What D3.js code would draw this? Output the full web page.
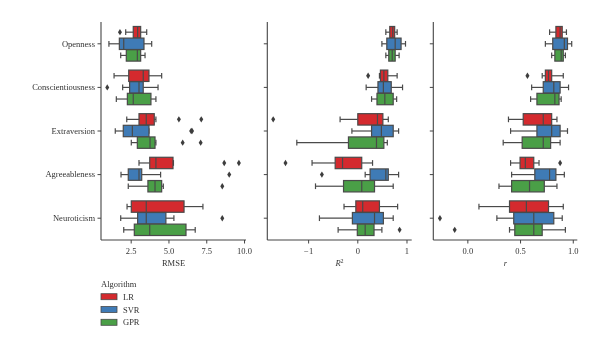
<!DOCTYPE html>
<html>
<head>
<meta charset="utf-8">
<script src="https://cdn.jsdelivr.net/npm/d3@7/dist/d3.min.js"></script>
<style>
  body { margin: 0; background: #fff; }
  svg { will-change: transform; }
  svg text { font-family: "Liberation Serif", "DejaVu Serif", serif; fill: #333; }
</style>
</head>
<body>
<div id="chart"></div>
<script>
// categories
var traits = ['Openness', 'Conscientiousness', 'Extraversion', 'Agreeableness', 'Neuroticism'];
var algorithms = ['LR', 'SVR', 'GPR'];

// box stats per trait: [whisker low, q1, median, q3, whisker high]
var rmseLR  = [[2.17, 2.67, 2.96, 3.16, 3.56], [1.40, 2.37, 3.33, 3.71, 4.55], [2.24, 3.05, 3.53, 4.06, 4.17], [3.05, 3.76, 4.17, 5.30, 5.33], [2.26, 2.54, 3.53, 6.03, 7.28]];
var rmseSVR = [[1.06, 1.75, 2.04, 3.38, 3.89], [1.97, 2.43, 3.05, 3.33, 4.31], [1.48, 2.01, 2.61, 3.71, 3.71], [1.86, 2.34, 3.05, 3.23, 4.48], [1.84, 2.96, 3.53, 4.83, 5.36]];
var rmseGPR = [[1.84, 2.21, 2.94, 3.16, 3.45], [1.55, 2.28, 2.67, 3.84, 4.17], [2.54, 2.94, 3.78, 4.11, 4.17], [2.34, 3.64, 4.11, 4.55, 4.66], [2.04, 2.74, 3.76, 6.16, 6.77]];
var rmseOutLR  = [[1.79], [], [5.69, 7.17], [8.69, 9.66], []];
var rmseOutSVR = [[], [0.95], [6.50, 6.56], [9.02], [8.56]];
var rmseOutGPR = [[], [], [5.94, 7.13], [8.56], []];

var r2LR  = [[0.58, 0.66, 0.72, 0.76, 0.81], [0.45, 0.47, 0.54, 0.62, 0.81], [-0.35, 0.01, 0.41, 0.52, 0.63], [-0.92, -0.45, -0.30, 0.09, 0.31], [-0.27, -0.03, 0.11, 0.45, 0.82]];
var r2SVR = [[0.50, 0.60, 0.77, 0.89, 0.98], [0.18, 0.42, 0.53, 0.69, 0.92], [-0.11, 0.29, 0.49, 0.73, 0.84], [0.16, 0.26, 0.58, 0.63, 0.84], [-0.77, -0.10, 0.35, 0.53, 0.73]];
var r2GPR = [[0.58, 0.64, 0.71, 0.77, 0.85], [0.29, 0.40, 0.56, 0.73, 0.80], [-1.23, -0.18, 0.39, 0.54, 0.61], [-0.85, -0.28, 0.09, 0.35, 0.73], [-0.39, 0.00, 0.16, 0.34, 0.50]];
var r2OutLR  = [[], [0.22], [-1.71], [-1.46], []];
var r2OutSVR = [[], [], [], [-0.72], []];
var r2OutGPR = [[], [], [], [], [0.86]];

var rLR  = [[0.78, 0.84, 0.88, 0.90, 0.94], [0.71, 0.74, 0.77, 0.80, 0.91], [0.39, 0.53, 0.72, 0.80, 0.85], [0.41, 0.50, 0.55, 0.63, 0.68], [0.11, 0.40, 0.56, 0.77, 0.91]];
var rSVR = [[0.74, 0.81, 0.92, 0.95, 0.99], [0.61, 0.72, 0.82, 0.88, 0.96], [0.41, 0.66, 0.80, 0.88, 0.95], [0.42, 0.64, 0.78, 0.84, 0.92], [0.28, 0.44, 0.63, 0.82, 0.90]];
var rGPR = [[0.80, 0.83, 0.89, 0.91, 0.93], [0.60, 0.66, 0.83, 0.87, 0.89], [0.34, 0.52, 0.72, 0.79, 0.88], [0.30, 0.42, 0.59, 0.73, 0.85], [0.40, 0.45, 0.63, 0.71, 0.93]];
var rOutLR  = [[], [0.57], [], [0.88], []];
var rOutSVR = [[], [], [], [], [-0.26]];
var rOutGPR = [[], [], [], [], [-0.12]];

// tick labels
var rmseTicks = [2.5, 5.0, 7.5, 10.0];
var r2Ticks = [-1, 0, 1];
var rTicks = [0.0, 0.5, 1.0];

var colors = { LR: '#d42a2e', SVR: '#3f7bb6', GPR: '#4a9f47' };
var edge = '#4a4a4a';

var W = 600, H = 348;
var plotTop = 22, plotBottom = 240;

var svg = d3.select('#chart').append('svg')
  .attr('width', W).attr('height', H);

var y = d3.scaleBand().domain(traits).range([plotTop, plotBottom]);
var hue = d3.scaleBand().domain(algorithms).range([-y.bandwidth() * 0.4, y.bandwidth() * 0.4]);

var panels = [
  { x0: 101, x1: 246, domain: [0.536, 10.13], ticks: rmseTicks, fmt: d3.format('.1f'), label: 'RMSE',
    stats: { LR: rmseLR, SVR: rmseSVR, GPR: rmseGPR }, out: { LR: rmseOutLR, SVR: rmseOutSVR, GPR: rmseOutGPR } },
  { x0: 267.3, x1: 411.7, domain: [-1.83, 1.106], ticks: r2Ticks, fmt: function(d) { return d < 0 ? '\u2212' + Math.abs(d) : String(d); }, label: 'R2',
    stats: { LR: r2LR, SVR: r2SVR, GPR: r2GPR }, out: { LR: r2OutLR, SVR: r2OutSVR, GPR: r2OutGPR } },
  { x0: 433.3, x1: 577.3, domain: [-0.323, 1.043], ticks: rTicks, fmt: d3.format('.1f'), label: 'r',
    stats: { LR: rLR, SVR: rSVR, GPR: rGPR }, out: { LR: rOutLR, SVR: rOutSVR, GPR: rOutGPR } }
];

panels.forEach(function(p, pi) {
  var x = d3.scaleLinear().domain(p.domain).range([p.x0, p.x1]);
  var g = svg.append('g');

  // boxes
  algorithms.forEach(function(a) {
    var bh = hue.bandwidth() * 0.98;
    p.stats[a].forEach(function(s, ti) {
      var cy = y(traits[ti]) + y.bandwidth() / 2 + hue(a) + hue.bandwidth() / 2;
      var box = g.append('g');
      var cap = bh * 0.5;
      box.append('line').attr('x1', x(s[0])).attr('x2', x(s[1])).attr('y1', cy).attr('y2', cy)
        .attr('stroke', edge).attr('stroke-width', 1.2);
      box.append('line').attr('x1', x(s[3])).attr('x2', x(s[4])).attr('y1', cy).attr('y2', cy)
        .attr('stroke', edge).attr('stroke-width', 1.2);
      [s[0], s[4]].forEach(function(v) {
        box.append('line').attr('x1', x(v)).attr('x2', x(v)).attr('y1', cy - cap / 2).attr('y2', cy + cap / 2)
          .attr('stroke', edge).attr('stroke-width', 1.2);
      });
      box.append('rect').attr('x', x(s[1])).attr('y', cy - bh / 2)
        .attr('width', Math.max(0, x(s[3]) - x(s[1]))).attr('height', bh)
        .attr('fill', colors[a]).attr('stroke', edge).attr('stroke-width', 1.2);
      box.append('line').attr('x1', x(s[2])).attr('x2', x(s[2])).attr('y1', cy - bh / 2).attr('y2', cy + bh / 2)
        .attr('stroke', edge).attr('stroke-width', 1.2);
      p.out[a][ti].forEach(function(v) {
        box.append('path')
          .attr('d', 'M0,-3.2L2,0L0,3.2L-2,0Z')
          .attr('transform', 'translate(' + x(v) + ',' + cy + ')')
          .attr('fill', '#3d3d3d');
      });
    });
  });

  // y axis
  var ya = g.append('g').attr('transform', 'translate(' + p.x0 + ',0)')
    .call(d3.axisLeft(y).tickSize(3.5).tickPadding(2.5).tickFormat(pi === 0 ? null : ''));
  // x axis
  var xa = g.append('g').attr('transform', 'translate(0,' + plotBottom + ')')
    .call(d3.axisBottom(x).tickValues(p.ticks).tickFormat(p.fmt).tickSize(3.5).tickPadding(4));
  [ya, xa].forEach(function(ax) {
    ax.select('.domain').attr('stroke', '#444').attr('stroke-width', 1.1);
    ax.selectAll('.tick line').attr('stroke', '#444').attr('stroke-width', 1);
    ax.selectAll('.tick text').attr('font-size', 8.5).attr('fill', '#333')
      .attr('font-family', '"Liberation Serif", "DejaVu Serif", serif');
  });
  ya.select('.domain').attr('d', 'M0,' + plotTop + 'V' + plotBottom);
  xa.select('.domain').attr('d', 'M' + p.x0 + ',0H' + p.x1);

  // axis label
  var lab = g.append('text')
    .attr('x', (p.x0 + p.x1) / 2).attr('y', 266)
    .attr('text-anchor', 'middle').attr('font-size', 8.5);
  if (p.label === 'R2') {
    lab.append('tspan').attr('font-style', 'italic').text('R');
    lab.append('tspan').attr('font-size', 6).attr('dy', -3.5).text('2');
  } else if (p.label === 'r') {
    lab.attr('font-style', 'italic').text('r');
  } else {
    lab.text(p.label);
  }
});

// legend
var legend = svg.append('g').attr('transform', 'translate(101,0)');
legend.append('text').attr('x', 0).attr('y', 287).attr('font-size', 8.5).text('Algorithm');
algorithms.forEach(function(a, i) {
  var cy = 296.7 + i * 12.8;
  legend.append('rect').attr('x', 0).attr('y', cy - 3).attr('width', 16).attr('height', 6)
    .attr('fill', colors[a]).attr('stroke', edge).attr('stroke-width', 0.8);
  legend.append('text').attr('x', 22).attr('y', cy + 3).attr('font-size', 8.5).text(a);
});
</script>
</body>
</html>
